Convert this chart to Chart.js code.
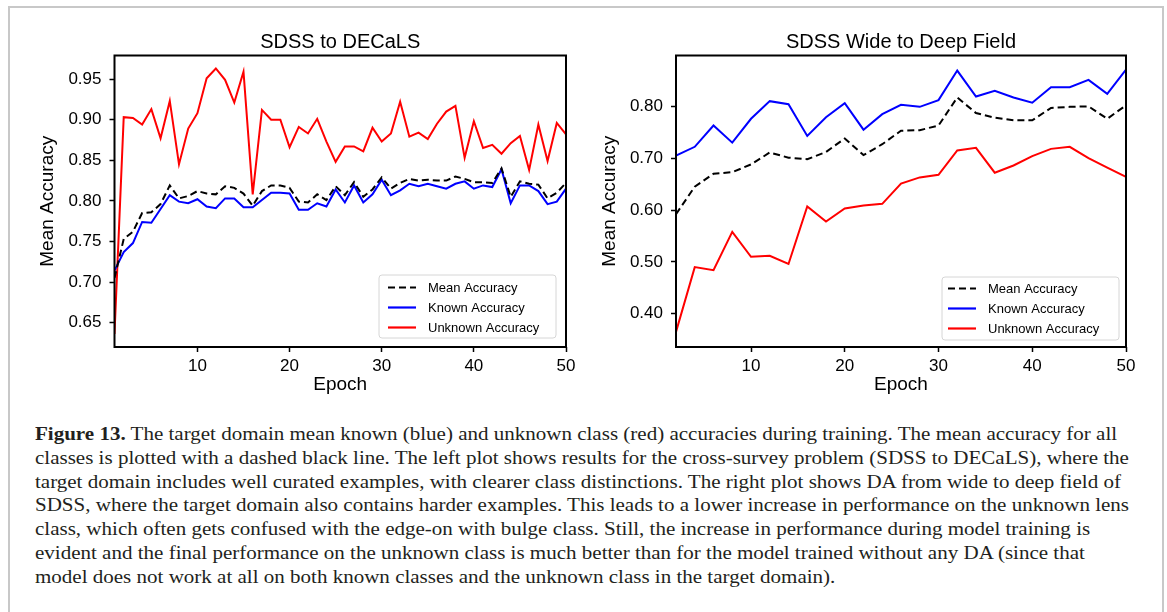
<!DOCTYPE html>
<html>
<head>
<meta charset="utf-8">
<script src="https://cdn.jsdelivr.net/npm/chart.js@4.4.0/dist/chart.umd.min.js"></script>
<style>
html,body{margin:0;padding:0;background:#fff;width:1167px;height:612px;overflow:hidden;}
#frame{position:absolute;left:8px;top:6px;width:1156px;height:700px;border:2px solid #c8c8c8;border-bottom:none;box-sizing:border-box;}
.cw{position:absolute;top:0;height:400px;}
#c1w{left:0;width:580px;}
#c2w{left:580px;width:570px;}
#caption{position:absolute;left:35px;top:423px;font-family:"Liberation Serif","Times New Roman",serif;font-size:18px;line-height:23.8px;color:#231f20;white-space:nowrap;transform-origin:0 0;}
#caption div{display:block;}
#caption span{display:inline-block;}
</style>
</head>
<body>
<div id="frame"></div>
<div class="cw" id="c1w"><canvas id="c1"></canvas></div>
<div class="cw" id="c2w"><canvas id="c2"></canvas></div>
<div id="caption">
<div><span><b>Figure 13.</b> The target domain mean known (blue) and unknown class (red) accuracies during training. The mean accuracy for all</span></div>
<div><span>classes is plotted with a dashed black line. The left plot shows results for the cross-survey problem (SDSS to DECaLS), where the</span></div>
<div><span>target domain includes well curated examples, with clearer class distinctions. The right plot shows DA from wide to deep field of</span></div>
<div><span>SDSS, where the target domain also contains harder examples. This leads to a lower increase in performance on the unknown lens</span></div>
<div><span>class, which often gets confused with the edge-on with bulge class. Still, the increase in performance during model training is</span></div>
<div><span>evident and the final performance on the unknown class is much better than for the model trained without any DA (since that</span></div>
<div><span>model does not work at all on both known classes and the unknown class in the target domain).</span></div>
</div>
<script>
// ---------- DATA ----------
const leftTitle = "SDSS to DECaLS";
const rightTitle = "SDSS Wide to Deep Field";
const seriesNames = ["Mean Accuracy", "Known Accuracy", "Unknown Accuracy"];

const leftEpochs = [1,2,3,4,5,6,7,8,9,10,11,12,13,14,15,16,17,18,19,20,21,22,23,24,25,26,27,28,29,30,31,32,33,34,35,36,37,38,39,40,41,42,43,44,45,46,47,48,49,50];
const leftMean = [0.705,0.753,0.762,0.785,0.786,0.796,0.819,0.803,0.806,0.812,0.809,0.808,0.818,0.816,0.809,0.794,0.812,0.819,0.819,0.816,0.799,0.798,0.808,0.801,0.818,0.807,0.823,0.805,0.814,0.829,0.815,0.822,0.827,0.825,0.826,0.825,0.825,0.830,0.827,0.823,0.823,0.822,0.840,0.805,0.824,0.821,0.820,0.803,0.810,0.822];
const leftKnown = [0.714,0.737,0.748,0.774,0.773,0.790,0.807,0.799,0.797,0.802,0.793,0.791,0.803,0.803,0.792,0.792,0.801,0.810,0.810,0.809,0.789,0.789,0.797,0.793,0.814,0.798,0.819,0.798,0.808,0.826,0.807,0.813,0.821,0.818,0.821,0.818,0.815,0.821,0.824,0.815,0.819,0.817,0.839,0.797,0.819,0.819,0.812,0.796,0.799,0.815];
const leftUnknown = [0.636,0.903,0.902,0.894,0.913,0.877,0.923,0.845,0.889,0.908,0.951,0.963,0.949,0.921,0.959,0.808,0.912,0.900,0.900,0.866,0.891,0.883,0.901,0.873,0.848,0.867,0.867,0.861,0.890,0.873,0.883,0.922,0.879,0.884,0.876,0.895,0.910,0.917,0.853,0.898,0.865,0.869,0.858,0.871,0.880,0.838,0.894,0.849,0.896,0.882];
const leftXTicks = [10,20,30,40,50];
const leftYTicks = [0.65,0.70,0.75,0.80,0.85,0.90,0.95];
const leftXRange = [1,50];
const leftYRange = [0.620,0.979];

const rightEpochs = [2,4,6,8,10,12,14,16,18,20,22,24,26,28,30,32,34,36,38,40,42,44,46,48,50];
const rightMean = [0.592,0.645,0.670,0.673,0.688,0.711,0.701,0.698,0.712,0.738,0.706,0.727,0.753,0.754,0.763,0.817,0.787,0.778,0.773,0.773,0.797,0.799,0.800,0.776,0.802];
const rightKnown = [0.705,0.722,0.763,0.730,0.776,0.810,0.804,0.743,0.779,0.806,0.755,0.785,0.803,0.799,0.812,0.869,0.819,0.830,0.817,0.807,0.837,0.837,0.851,0.824,0.871];
const rightUnknown = [0.365,0.490,0.484,0.558,0.510,0.512,0.496,0.607,0.578,0.603,0.609,0.612,0.651,0.663,0.668,0.715,0.720,0.672,0.686,0.704,0.718,0.722,0.700,0.682,0.664];
const rightXTicks = [10,20,30,40,50];
const rightYTicks = [0.40,0.50,0.60,0.70,0.80];
const rightXRange = [2,50];
const rightYRange = [0.336,0.898];

// ---------- STYLE ----------
const FONT = '"Liberation Sans", Arial, Helvetica, sans-serif';
const seriesStyles = [
  {color:'#000000', dash:[7,4]},
  {color:'#0000ff', dash:[]},
  {color:'#ff0000', dash:[]}
];

const framePlugin = {
  id:'frameBox',
  afterDatasetsDraw(chart){
    const a = chart.chartArea, ctx = chart.ctx;
    ctx.save();
    ctx.strokeStyle = '#000';
    ctx.lineWidth = 2;
    ctx.strokeRect(a.left, a.top, a.right - a.left, a.bottom - a.top);
    ctx.restore();
  }
};

const legendPlugin = {
  id:'innerLegend',
  afterDraw(chart, args, opts){
    const a = chart.chartArea, ctx = chart.ctx;
    const w = opts.width, h = opts.height;
    const x0 = a.right - opts.right - w, y0 = a.bottom - opts.bottom - h;
    ctx.save();
    ctx.beginPath();
    const r = 3;
    ctx.moveTo(x0 + r, y0);
    ctx.arcTo(x0 + w, y0, x0 + w, y0 + h, r);
    ctx.arcTo(x0 + w, y0 + h, x0, y0 + h, r);
    ctx.arcTo(x0, y0 + h, x0, y0, r);
    ctx.arcTo(x0, y0, x0 + w, y0, r);
    ctx.closePath();
    ctx.fillStyle = 'rgba(255,255,255,0.85)';
    ctx.fill();
    ctx.strokeStyle = '#d6d6d6';
    ctx.lineWidth = 1;
    ctx.stroke();
    ctx.font = '13px ' + FONT;
    ctx.textBaseline = 'middle';
    ctx.textAlign = 'left';
    chart.data.datasets.forEach((ds, i) => {
      const yy = y0 + opts.firstRow + i * opts.rowGap;
      ctx.beginPath();
      ctx.setLineDash(ds.borderDash || []);
      ctx.strokeStyle = ds.borderColor;
      ctx.lineWidth = 2.2;
      ctx.moveTo(x0 + opts.lineStart, yy);
      ctx.lineTo(x0 + opts.lineEnd, yy);
      ctx.stroke();
      ctx.setLineDash([]);
      ctx.fillStyle = '#000';
      ctx.fillText(ds.label, x0 + opts.textStart, yy + 0.5);
    });
    ctx.restore();
  }
};

function makeChart(id, cfg){
  const datasets = cfg.series.map((vals, i) => ({
    label: seriesNames[i],
    data: vals.map((v, k) => ({x: cfg.epochs[k], y: v})),
    borderColor: seriesStyles[i].color,
    borderDash: seriesStyles[i].dash,
    borderWidth: 2,
    pointRadius: 0,
    tension: 0,
    fill: false
  }));
  return new Chart(document.getElementById(id), {
    type: 'line',
    data: {datasets},
    options: {
      responsive: true,
      maintainAspectRatio: false,
      animation: false,
      devicePixelRatio: 1,
      layout: {padding: {left: 0, right: cfg.padRight, top: 0, bottom: 0}},
      plugins: {
        legend: {display: false},
        tooltip: {enabled: false},
        title: {
          display: true, text: cfg.title, fullSize: false,
          color: '#000', font: {family: FONT, size: 20, weight: 'normal', lineHeight: 1.2},
          padding: {top: 30.5, bottom: 1}
        },
        innerLegend: cfg.legend
      },
      scales: {
        x: {
          type: 'linear', min: cfg.xRange[0], max: cfg.xRange[1],
          afterBuildTicks: ax => { ax.ticks = cfg.xTicks.map(v => ({value: v})); },
          afterFit: ax => { ax.height = 53; },
          ticks: {color: '#000', font: {family: FONT, size: 17}, padding: 4, maxRotation: 0, autoSkip: false, callback: v => String(v)},
          grid: {drawOnChartArea: false, drawTicks: true, tickLength: 5, tickWidth: 1.5, tickColor: '#000'},
          border: {display: false},
          title: {display: true, text: 'Epoch', color: '#000', font: {family: FONT, size: 19, lineHeight: 1.2}, padding: {top: 0, bottom: 3.6}}
        },
        y: {
          type: 'linear', min: cfg.yRange[0], max: cfg.yRange[1],
          afterBuildTicks: ax => { ax.ticks = cfg.yTicks.map(v => ({value: v})); },
          afterFit: ax => { ax.width = cfg.yWidth; },
          ticks: {color: '#000', font: {family: FONT, size: 17}, padding: 8, autoSkip: false, callback: v => Number(v).toFixed(2)},
          grid: {drawOnChartArea: false, drawTicks: true, tickLength: 5, tickWidth: 1.5, tickColor: '#000'},
          border: {display: false},
          title: {display: true, text: 'Mean Accuracy', color: '#000', font: {family: FONT, size: 19, lineHeight: 1.2}, padding: {top: cfg.yTitlePad, bottom: 0}}
        }
      }
    },
    plugins: [framePlugin, legendPlugin]
  });
}

makeChart('c1', {
  title: leftTitle, epochs: leftEpochs, series: [leftMean, leftKnown, leftUnknown],
  xTicks: leftXTicks, yTicks: leftYTicks, xRange: leftXRange, yRange: leftYRange,
  padRight: 14, yWidth: 114.5, yTitlePad: 36.6,
  legend: {width: 177, height: 63, right: 10, bottom: 9, firstRow: 12.5, rowGap: 20, lineStart: 9, lineEnd: 37, textStart: 49}
});
makeChart('c2', {
  title: rightTitle, epochs: rightEpochs, series: [rightMean, rightKnown, rightUnknown],
  xTicks: rightXTicks, yTicks: rightYTicks, xRange: rightXRange, yRange: rightYRange,
  padRight: 24, yWidth: 96, yTitlePad: 18.3,
  legend: {width: 177, height: 63, right: 7, bottom: 7, firstRow: 11.5, rowGap: 20, lineStart: 6, lineEnd: 34, textStart: 46}
});

// caption width fit: widest line spans about the width of the figure's text block
(function(){
  const cap = document.getElementById('caption');
  let maxW = 0;
  cap.querySelectorAll('span').forEach(s => { maxW = Math.max(maxW, s.getBoundingClientRect().width); });
  const s = 1094 / maxW;
  cap.style.transform = 'scaleX(' + s.toFixed(4) + ')';
})();
</script>
</body>
</html>
